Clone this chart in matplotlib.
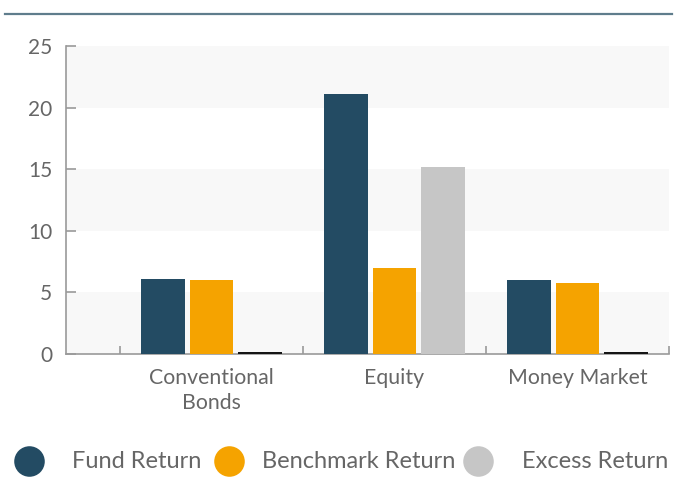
import matplotlib
matplotlib.use("Agg")
import matplotlib.pyplot as plt
import numpy as np
from matplotlib.lines import Line2D

categories = ["Conventional\nBonds", "Equity", "Money Market"]
fund_return = [6.1, 21.1, 6.0]
benchmark_return = [6.0, 7.0, 5.8]
excess_return = [0.2, 15.2, 0.2]
series_names = ["Fund Return", "Benchmark Return", "Excess Return"]
y_ticks = [0, 5, 10, 15, 20, 25]

c_fund = "#234b63"
c_bench = "#f5a300"
c_excess = "#c6c6c6"
excess_colors = ["#151515", c_excess, "#151515"]
text_color = "#666666"
axis_color = "#9a9a9a"

plt.rcParams["font.family"] = ["Lato", "DejaVu Sans"]

W, H = 678, 487
fig = plt.figure(figsize=(W/100, H/100), dpi=100)
ax = fig.add_axes([66/W, 1-354/H, (669-66)/W, (354-46)/H])

x = np.arange(len(categories))
w = 0.24
off = 0.265
ax.bar(x - off, fund_return, w, color=c_fund, zorder=2)
ax.bar(x, benchmark_return, w, color=c_bench, zorder=2)
ax.bar(x + off, excess_return, w, color=excess_colors, zorder=2)

for lo in (0, 10, 20):
    ax.axhspan(lo, lo + 5, color="#f8f8f8", zorder=0, lw=0)

ax.set_ylim(0, 25)
ax.set_xlim(-0.5 - 54/183, 2.5)
ax.set_yticks(y_ticks)
ax.set_yticklabels([str(v) for v in y_ticks])
ax.set_xticks(x)
ax.set_xticklabels(categories, linespacing=1.35)
ax.set_xticks([-0.5, 0.5, 1.5, 2.5], minor=True)

for s in ("top", "right"):
    ax.spines[s].set_visible(False)
for s in ("left", "bottom"):
    ax.spines[s].set_color(axis_color)
    ax.spines[s].set_linewidth(1.2)
    ax.spines[s].set_zorder(1.5)

ax.tick_params(axis="y", direction="in", length=7, width=1.2, color=axis_color,
               labelsize=15, labelcolor=text_color, pad=10)
ax.tick_params(axis="x", which="major", length=0, labelsize=15.3,
               labelcolor=text_color, pad=10)
ax.tick_params(axis="x", which="minor", direction="in", length=6, width=1.2,
               color=axis_color)

# top rule
fig.add_artist(Line2D([5/W, 672/W], [1-14/H, 1-14/H],
                      color="#5f7d8c", lw=1.6, transform=fig.transFigure))

# legend (manually placed)
lax = fig.add_axes([0, 0, 1, 1], facecolor="none")
lax.set_xlim(0, W)
lax.set_ylim(H, 0)
lax.axis("off")
marker_x = [29, 229, 478]
text_x = [72, 262, 522]
for mx, tx, c, name in zip(marker_x, text_x, (c_fund, c_bench, c_excess), series_names):
    lax.scatter([mx], [461], s=22**2, color=c, linewidths=0)
    lax.text(tx, 461, name, fontsize=17, color=text_color, va="center", ha="left")

fig.savefig("out.png", dpi=100)
